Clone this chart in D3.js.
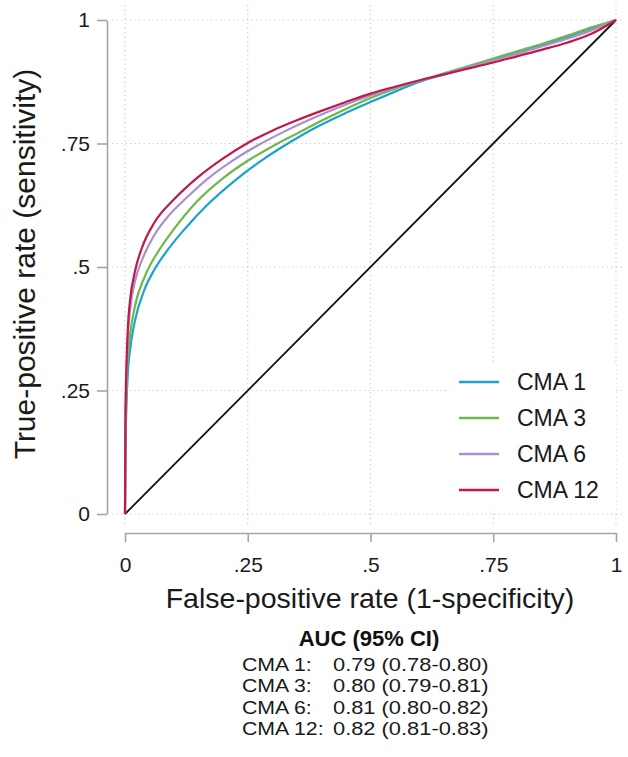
<!DOCTYPE html>
<html>
<head>
<meta charset="utf-8">
<script src="https://cdn.jsdelivr.net/npm/d3@7"></script>
<style>
  body { margin: 0; background: #fff; }
  svg { display: block; font-family: "Liberation Sans", Arial, sans-serif; }
</style>
</head>
<body>
<div id="chart"></div>
<script>
// Basic dimensions
const width = 628;
const height = 757;

// Axis ticks
const tickValues = [0, 0.25, 0.5, 0.75, 1];
const tickLabels = ["0", ".25", ".5", ".75", "1"];

// Series names and colours
const seriesNames = ["CMA 1", "CMA 3", "CMA 6", "CMA 12"];
const seriesColors = ["#1ba3cc", "#6cb84a", "#a991cc", "#c2184b"];

// ROC points: [false-positive rate, true-positive rate]
const cma1 = [[0,0],[0.001,0.13],[0.003,0.22],[0.006,0.29],[0.01,0.33],[0.02,0.39],[0.04,0.455],[0.06,0.495],[0.085,0.532],[0.12,0.575],[0.17,0.628],[0.22,0.672],[0.28,0.717],[0.33,0.749],[0.38,0.778],[0.45,0.812],[0.5,0.834],[0.55,0.855],[0.6,0.875],[0.65,0.89],[0.7,0.905],[0.75,0.92],[0.8,0.935],[0.85,0.95],[0.9,0.966],[0.95,0.983],[1,1]];
const cma3 = [[0,0],[0.001,0.15],[0.003,0.25],[0.006,0.32],[0.01,0.36],[0.02,0.42],[0.04,0.48],[0.07,0.535],[0.1,0.577],[0.146,0.632],[0.2,0.68],[0.25,0.715],[0.3,0.744],[0.35,0.77],[0.4,0.796],[0.45,0.82],[0.5,0.842],[0.55,0.861],[0.6,0.877],[0.65,0.892],[0.7,0.907],[0.75,0.922],[0.8,0.937],[0.85,0.952],[0.9,0.968],[0.95,0.985],[1,1]];
const cma6 = [[0,0],[0.001,0.18],[0.003,0.28],[0.006,0.36],[0.01,0.41],[0.02,0.47],[0.035,0.515],[0.06,0.565],[0.09,0.605],[0.122,0.637],[0.17,0.68],[0.22,0.716],[0.27,0.746],[0.32,0.772],[0.38,0.8],[0.45,0.829],[0.5,0.847],[0.55,0.863],[0.6,0.877],[0.65,0.891],[0.7,0.904],[0.75,0.918],[0.8,0.932],[0.85,0.947],[0.9,0.962],[0.95,0.979],[1,1]];
const cma12 = [[0,0],[0.001,0.2],[0.003,0.3],[0.006,0.38],[0.01,0.43],[0.02,0.49],[0.035,0.54],[0.06,0.59],[0.1,0.637],[0.15,0.683],[0.2,0.72],[0.25,0.751],[0.3,0.776],[0.35,0.797],[0.4,0.816],[0.45,0.834],[0.5,0.851],[0.55,0.865],[0.6,0.878],[0.65,0.89],[0.7,0.902],[0.75,0.914],[0.8,0.927],[0.85,0.94],[0.9,0.954],[0.95,0.972],[1,1]];
const reference = [[0,0],[1,1]];

// AUC table
const aucTitle = "AUC (95% CI)";
const aucLabels = ["CMA 1:", "CMA 3:", "CMA 6:", "CMA 12:"];
const aucValues = ["0.79 (0.78-0.80)", "0.80 (0.79-0.81)", "0.81 (0.80-0.82)", "0.82 (0.81-0.83)"];

const allSeries = [cma1, cma3, cma6, cma12];

const svg = d3.select("#chart")
  .append("svg")
  .attr("width", width)
  .attr("height", height);

// Scales
const x = d3.scaleLinear().domain([0, 1]).range([125, 616]);
const y = d3.scaleLinear().domain([0, 1]).range([514, 20]);

// Dotted grid
const grid = svg.append("g")
  .attr("stroke", "#c8c8c8")
  .attr("stroke-width", 1.2)
  .attr("stroke-dasharray", "1.2,3.3");

grid.selectAll(".gx")
  .data(tickValues)
  .enter()
  .append("line")
  .attr("x1", d => x(d)).attr("x2", d => x(d))
  .attr("y1", 5).attr("y2", 524);

grid.selectAll(".gy")
  .data(tickValues)
  .enter()
  .append("line")
  .attr("x1", 112).attr("x2", 622)
  .attr("y1", d => y(d)).attr("y2", d => y(d));

// Y axis
const fmt = d => tickLabels[tickValues.indexOf(d)];
const yAxis = svg.append("g")
  .attr("transform", "translate(107,0)")
  .call(d3.axisLeft(y).tickValues(tickValues).tickFormat(fmt).tickSize(10).tickSizeOuter(0).tickPadding(7));

// X axis
const xAxis = svg.append("g")
  .attr("transform", "translate(0,533)")
  .call(d3.axisBottom(x).tickValues(tickValues).tickFormat(fmt).tickSize(9).tickSizeOuter(0).tickPadding(15));

[yAxis, xAxis].forEach(ax => {
  ax.select(".domain").attr("stroke", "#a6a6a6").attr("stroke-width", 1.6);
  ax.selectAll(".tick line").attr("stroke", "#a6a6a6").attr("stroke-width", 1.6);
  ax.selectAll(".tick text")
    .attr("fill", "#1a1a1a")
    .attr("font-size", "21px")
    .attr("font-family", "Liberation Sans, Arial, sans-serif");
});

// Line generator
const line = d3.line()
  .x(d => x(d[0]))
  .y(d => y(d[1]))
  .curve(d3.curveMonotoneX);

// Reference diagonal
svg.append("path")
  .datum(reference)
  .attr("fill", "none")
  .attr("stroke", "#111")
  .attr("stroke-width", 1.8)
  .attr("d", line);

// ROC curves
svg.selectAll(".roc")
  .data(allSeries)
  .enter()
  .append("path")
  .attr("class", "roc")
  .attr("fill", "none")
  .attr("stroke", (d, i) => seriesColors[i])
  .attr("stroke-width", 2.2)
  .attr("d", line);

// Legend
const legend = svg.append("g");
legend.append("rect")
  .attr("x", 450).attr("y", 364)
  .attr("width", 166).attr("height", 146)
  .attr("fill", "#fff");

const rows = legend.selectAll(".row")
  .data(seriesNames)
  .enter()
  .append("g")
  .attr("transform", (d, i) => `translate(0,${382 + i * 36})`);

rows.append("line")
  .attr("x1", 459).attr("x2", 499)
  .attr("y1", 0).attr("y2", 0)
  .attr("stroke", (d, i) => seriesColors[i])
  .attr("stroke-width", 2.5);

rows.append("text")
  .attr("x", 517)
  .attr("y", 8)
  .attr("font-size", "23px")
  .attr("fill", "#1a1a1a")
  .text(d => d);

// X-axis label
svg.append("text")
  .attr("text-anchor", "middle")
  .attr("x", 370)
  .attr("y", 608)
  .attr("font-size", "28.5px")
  .attr("fill", "#1a1a1a")
  .text("False-positive rate (1-specificity)");

// Y-axis label
svg.append("text")
  .attr("text-anchor", "middle")
  .attr("transform", "rotate(-90)")
  .attr("x", -264)
  .attr("y", 35)
  .attr("font-size", "30px")
  .attr("fill", "#1a1a1a")
  .text("True-positive rate (sensitivity)");

// AUC note
svg.append("text")
  .attr("text-anchor", "middle")
  .attr("x", 369)
  .attr("y", 646)
  .attr("font-size", "22px")
  .attr("font-weight", "bold")
  .attr("fill", "#111")
  .text(aucTitle);

const rowGap = 21.3;

// rows are drawn a little narrow, then widened to the reference width
function widen(sel, factor) {
  sel.each(function() {
    const w = this.getComputedTextLength();
    d3.select(this)
      .attr("textLength", w * factor)
      .attr("lengthAdjust", "spacingAndGlyphs");
  });
}

const labels = svg.selectAll(".auc-label")
  .data(aucLabels)
  .enter()
  .append("text")
  .attr("class", "auc-label")
  .attr("x", 242)
  .attr("y", (d, i) => 671 + i * rowGap)
  .attr("font-size", "19px")
  .attr("fill", "#1a1a1a")
  .text(d => d);
widen(labels, 1.12);

const values = svg.selectAll(".auc-value")
  .data(aucValues)
  .enter()
  .append("text")
  .attr("class", "auc-value")
  .attr("x", 333)
  .attr("y", (d, i) => 671 + i * rowGap)
  .attr("font-size", "19px")
  .attr("fill", "#1a1a1a")
  .text(d => d);
widen(values, 1.15);
</script>
</body>
</html>
